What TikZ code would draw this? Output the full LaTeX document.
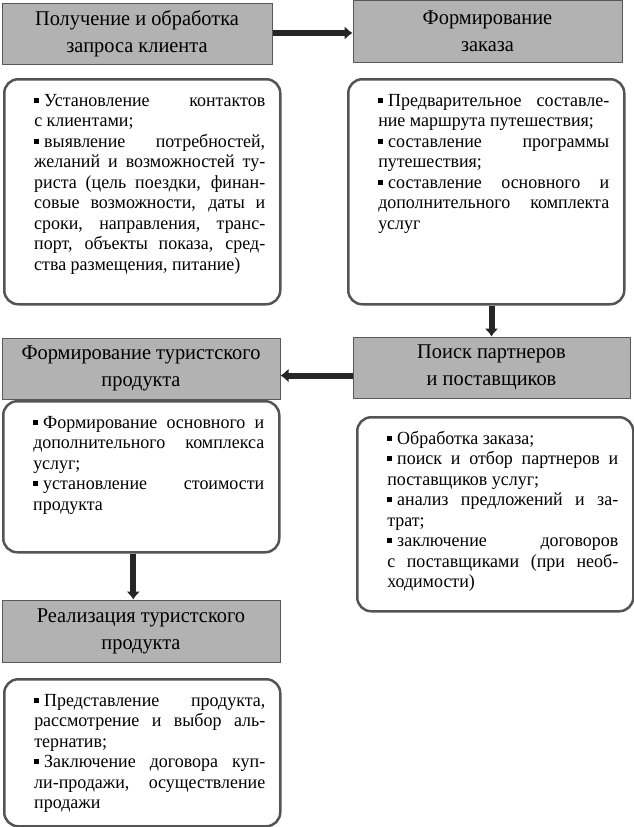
\documentclass[tikz,border=0pt]{standalone}
\usepackage{fontspec}
\setmainfont[FakeStretch=0.97]{Liberation Serif}
\newfontfamily\headfont[FakeStretch=0.97]{Liberation Serif}
\usetikzlibrary{%
    arrows.meta,
    positioning
}
\definecolor{headgray}{gray}{0.7}
\definecolor{framegray}{gray}{0.33}
\newcommand\itembullet{\rule[0.2em]{0.26em}{0.26em}\hspace{0.28em}}
\tikzset{
    headbox/.style = {draw=gray!70!black, fill=headgray, line width=1pt, inner sep=0pt,
        align=center, font=\headfont\fontsize{21}{27}\selectfont},
    infobox/.style = {draw=framegray, line width=2.5pt, rounded corners=14pt, anchor=north west,
        inner xsep=15pt, inner ysep=12.65pt, text width=246pt, align=justify,
        font=\fontsize{18.5}{20.5}\selectfont,
        execute at begin node={\leftskip=15pt\strut}},
    headarrow/.style = {-{Latex[length=8pt,width=14pt]}, line width=6pt, draw=black!85}
}
\begin{document}
\begin{tikzpicture}[x=1pt,y=-1pt]
    \useasboundingbox (0,0) rectangle (633,827);

    \node (H1) [headbox, minimum width=270pt, minimum height=61pt] at (137,33.5)
        {Получение и обработка\\запроса клиента};
    \node (H2) [headbox, minimum width=269pt, minimum height=62pt] at (487.5,31)
        {Формирование\\заказа};
    \node (H3) [headbox, minimum width=277pt, minimum height=61pt] at (491.5,367.5)
        {Поиск партнеров\\и поставщиков};
    \node (H4) [headbox, minimum width=278pt, minimum height=61pt] at (141,368.5)
        {Формирование туристского\\продукта};
    \node (H5) [headbox, minimum width=278pt, minimum height=62pt] at (141,631)
        {Реализация туристского\\продукта};

    \node (B1) [infobox, text depth=185.35pt] at (3,78) {%
        \itembullet Установление контактов\linebreak с~клиентами;\par
        \itembullet выявление потребностей,\linebreak желаний и возможностей ту-\linebreak
        риста (цель поездки, финан-\linebreak совые возможности, даты и\linebreak
        сроки, направления, транс-\linebreak порт, объекты показа, сред-\linebreak
        ства размещения, питание)};
    \node (B2) [infobox, text depth=185.35pt] at (347,78) {%
        \itembullet Предварительное составле-\linebreak ние маршрута путешествия;\par
        \itembullet составление программы\linebreak путешествия;\par
        \itembullet составление основного и\linebreak дополнительного комплекта\linebreak услуг};
    \node (B3) [infobox, text depth=111.35pt] at (2,400) {%
        \itembullet Формирование основного и\linebreak дополнительного комплекса\linebreak услуг;\par
        \itembullet установление стоимости\linebreak продукта};
    \node (B4) [infobox, text depth=154.35pt] at (356,416) {%
        \itembullet Обработка заказа;\par
        \itembullet поиск и отбор партнеров и\linebreak поставщиков услуг;\par
        \itembullet анализ предложений и за-\linebreak трат;\par
        \itembullet заключение договоров\linebreak с~поставщиками (при необ-\linebreak ходимости)};
    \node (B5) [infobox, text depth=107.35pt] at (3,678) {%
        \itembullet Представление продукта,\linebreak рассмотрение и выбор аль-\linebreak тернатив;\par
        \itembullet Заключение договора куп-\linebreak ли-продажи, осуществление\linebreak продажи};

    \coordinate (A3) at ([yshift=-8pt]H3.west);
    \coordinate (A5) at ([xshift=-8pt]B3.south);

    \draw[headarrow] (H1.east |- 0,33) -- (H2.west |- 0,33);
    \draw[headarrow] (H3.north |- B2.south) -- (H3.north);
    \draw[headarrow] (A3) -- (A3 -| H4.east);
    \draw[headarrow] (A5) -- (A5 |- H5.north);
\end{tikzpicture}
\end{document}
